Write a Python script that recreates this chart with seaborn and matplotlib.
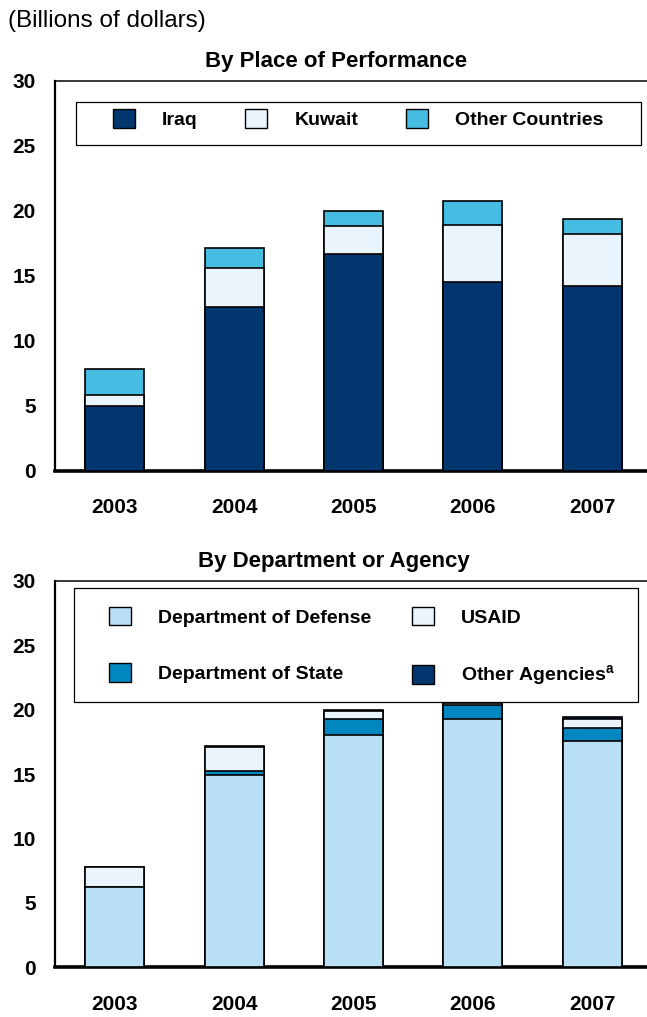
import matplotlib
matplotlib.use("Agg")
import matplotlib.pyplot as plt
from matplotlib.patches import Patch, Rectangle
import seaborn as sns

# Data (billions of dollars)
years = ["2003", "2004", "2005", "2006", "2007"]

iraq = [5.0, 12.6, 16.7, 14.5, 14.2]
kuwait = [0.8, 3.0, 2.1, 4.4, 4.0]
other_countries = [2.0, 1.55, 1.2, 1.85, 1.2]

dod = [6.25, 14.9, 18.0, 19.25, 17.6]
state = [0.0, 0.35, 1.25, 1.1, 1.0]
usaid = [1.55, 1.85, 0.65, 0.15, 0.65]
other_agencies = [0.0, 0.05, 0.1, 0.25, 0.15]

yticks = [0, 5, 10, 15, 20, 25, 30]

# Colours
navy = "#02366f"
pale = "#eaf4fc"
cyan = "#45bce2"
light_blue = "#b8dff3"
mid_blue = "#0087c0"

sns.set_style("white")
plt.rcParams["font.family"] = ["Liberation Sans", "DejaVu Sans"]
plt.rcParams["mathtext.fontset"] = "custom"
plt.rcParams["mathtext.bf"] = "Liberation Sans:bold"
plt.rcParams["mathtext.rm"] = "Liberation Sans"
plt.rcParams.update({"text.color": "black", "xtick.color": "black",
                     "ytick.color": "black", "axes.labelcolor": "black"})

W, H = 647, 1017
fig = plt.figure(figsize=(W / 100, H / 100), dpi=100)


def fx(px):
    return px / W


def fy(py):
    return (H - py) / H


def cumsum(*series):
    out = []
    run = [0.0] * len(years)
    for s in series:
        run = [a + b for a, b in zip(run, s)]
        out.append(run)
    return out


def style_axes(ax):
    ax.set_xlim(-0.5, 4.46)
    ax.set_ylim(0, 30)
    ax.set_yticks(yticks)
    ax.set_xlabel("")
    ax.set_ylabel("")
    ax.spines["right"].set_visible(False)
    ax.spines["left"].set_linewidth(1.6)
    ax.spines["bottom"].set_linewidth(2.6)
    ax.spines["top"].set_linewidth(1.1)
    for s in ax.spines.values():
        s.set_color("black")
    ax.tick_params(axis="y", direction="in", length=11, width=0.9, pad=14,
                   labelsize=15, color="black", labelcolor="black")
    ax.tick_params(axis="x", length=0, pad=20, labelsize=15, labelcolor="black")
    for lab in ax.get_xticklabels() + ax.get_yticklabels():
        lab.set_fontweight("bold")


def stacked(ax, layers, colors):
    # draw cumulative totals from the top down so segments stack
    for vals, col in reversed(list(zip(layers, colors))):
        sns.barplot(x=years, y=vals, color=col, saturation=1, width=0.494,
                    edgecolor="black", linewidth=1.2, ax=ax, zorder=3)


# ---- top panel: by place of performance
ax1 = fig.add_axes([fx(55), fy(470.7), 1 - fx(55), fy(80.7) - fy(470.7)])
stacked(ax1, cumsum(iraq, kuwait, other_countries), [navy, pale, cyan])
style_axes(ax1)

fig.text(fx(336), fy(62), "By Place of Performance", ha="center", va="center",
         fontsize=16, fontweight="bold")
fig.text(fx(8), fy(21), "(Billions of dollars)", ha="left", va="center", fontsize=17.5)

fig.add_artist(Rectangle((fx(76.3), fy(145)), fx(640.8) - fx(76.3), fy(101.7) - fy(145),
                         transform=fig.transFigure, facecolor="white",
                         edgecolor="black", linewidth=0.9, zorder=5))
h1 = [Patch(facecolor=c, edgecolor="black", linewidth=1.0, label=l)
      for c, l in zip([navy, pale, cyan], ["Iraq", "Kuwait", "Other Countries"])]
leg1 = fig.legend(handles=h1, ncol=3, loc="center left",
                  bbox_to_anchor=(fx(113), fy(119)), bbox_transform=fig.transFigure,
                  frameon=False, borderpad=0, borderaxespad=0,
                  prop={"weight": "bold", "size": 14},
                  handlelength=1.13, handleheight=1.08, handletextpad=1.39,
                  columnspacing=2.45)
leg1.set_zorder(6)

# ---- bottom panel: by department or agency
ax2 = fig.add_axes([fx(55), fy(967.3), 1 - fx(55), fy(580.9) - fy(967.3)])
stacked(ax2, cumsum(dod, state, usaid, other_agencies),
        [light_blue, mid_blue, pale, navy])
style_axes(ax2)

fig.text(fx(334), fy(561), "By Department or Agency", ha="center", va="center",
         fontsize=16, fontweight="bold")

fig.add_artist(Rectangle((fx(74.3), fy(701.7)), fx(637.5) - fx(74.3), fy(587.7) - fy(701.7),
                         transform=fig.transFigure, facecolor="white",
                         edgecolor="black", linewidth=0.9, zorder=5))
labels2 = ["Department of Defense", "Department of State", "USAID",
           r"Other Agencies$^\mathbf{a}$"]
colors2 = [light_blue, mid_blue, pale, navy]
h2 = [Patch(facecolor=c, edgecolor="black", linewidth=1.0, label=l)
      for c, l in zip(colors2, labels2)]
leg2 = fig.legend(handles=h2, ncol=2, loc="center left",
                  bbox_to_anchor=(fx(109), fy(647.5)), bbox_transform=fig.transFigure,
                  frameon=False, borderpad=0, borderaxespad=0,
                  prop={"weight": "bold", "size": 14},
                  handlelength=1.13, handleheight=1.08, handletextpad=1.39,
                  columnspacing=2.1, labelspacing=1.88)
leg2.set_zorder(6)

fig.savefig("out.png", dpi=100)
